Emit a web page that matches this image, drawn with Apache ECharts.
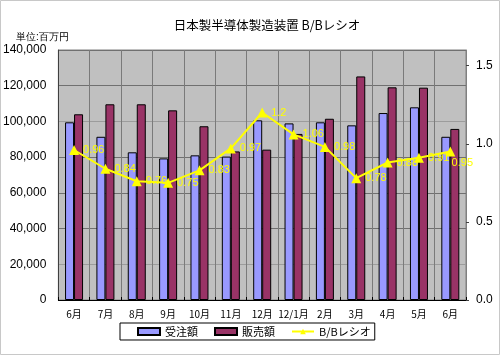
<!DOCTYPE html>
<html>
<head>
<meta charset="utf-8">
<script src="https://cdn.jsdelivr.net/npm/echarts@6/dist/echarts.min.js"></script>
<style>
html,body{margin:0;padding:0;background:#fff;}
#c{width:500px;height:355px;}
</style>
</head>
<body>
<div id="c"></div>
<script>
const categories = ['6月','7月','8月','9月','10月','11月','12月','12/1月','2月','3月','4月','5月','6月'];
const orders = [99500, 91400, 82700, 79300, 81000, 80300, 100600, 98900, 99500, 97800, 104700, 107900, 91400];
const sales  = [104000, 109600, 109600, 106200, 97300, 83200, 84200, 93000, 101500, 125200, 119100, 118900, 95800];
const bbRatio = [0.96, 0.84, 0.76, 0.75, 0.83, 0.97, 1.2, 1.06, 0.98, 0.78, 0.88, 0.91, 0.95];
const leftTicks = [0, 20000, 40000, 60000, 80000, 100000, 120000, 140000];
const rightTicks = [0.0, 0.5, 1.0, 1.5];

const font = '"Liberation Sans", Arial, "Noto Sans CJK JP", sans-serif';
const chart = echarts.init(document.getElementById('c'), null, {renderer:'canvas'});

const ratioData = bbRatio.map((v, i) => {
  if (i === bbRatio.length - 1) {
    return {value: v, label: {position: 'bottom', offset: [12, -3]}};
  }
  return v;
});

chart.setOption({
  animation: false,
  backgroundColor: '#fff',
  textStyle: {fontFamily: font},
  title: {
    text: '日本製半導体製造装置 B/Bレシオ',
    left: 262, textAlign: 'center', top: 14,
    textStyle: {fontSize: 12.5, fontWeight: 'normal', color: '#000', fontFamily: '"Noto Sans CJK JP", sans-serif'}
  },
  graphic: [
    {type: 'rect', shape: {x: 0.5, y: 0.5, width: 499, height: 354}, style: {fill: 'none', stroke: '#c8c8c8', lineWidth: 1}, silent: true},
    {type: 'text', left: 16, top: 32, style: {text: '単位:百万円', fontSize: 10, fill: '#000', font: '10px "Noto Sans CJK JP", sans-serif'}}
  ],
  legend: {
    left: 120, top: 323,
    backgroundColor: '#fff', borderColor: '#000', borderWidth: 1,
    padding: [3, 4, 3, 17],
    itemWidth: 22, itemHeight: 7, itemGap: 16,
    textStyle: {fontSize: 11, color: '#000', fontFamily: '"Noto Sans CJK JP", sans-serif'},
    data: [
      {name: '受注額', icon: 'rect'},
      {name: '販売額', icon: 'rect'},
      {name: 'B/Bレシオ'}
    ]
  },
  grid: {
    left: 58, right: 34, top: 50, bottom: 55,
    show: true, backgroundColor: '#c0c0c0', borderColor: '#808080', borderWidth: 1
  },
  xAxis: {
    type: 'category', data: categories,
    axisLine: {lineStyle: {color: '#000', width: 1}},
    axisTick: {show: true, inside: true, length: 3, lineStyle: {color: '#000'}},
    splitLine: {show: true, lineStyle: {color: '#7a7a7a', width: 1}},
    axisLabel: {fontSize: 10, color: '#000', margin: 9, interval: 0, fontFamily: '"Noto Sans CJK JP", sans-serif'}
  },
  yAxis: [
    {
      type: 'value', min: leftTicks[0], max: leftTicks[leftTicks.length - 1], interval: 20000,
      axisLine: {show: true, lineStyle: {color: '#404040'}},
      axisTick: {show: false},
      splitLine: {show: true, lineStyle: {color: ['#707070','#9c9c9c','#707070','#707070','#707070','#9c9c9c','#707070','#707070'], width: 1}},
      axisLabel: {fontSize: 12, color: '#000', margin: 12, formatter: v => v.toLocaleString('en-US')}
    },
    {
      type: 'value', min: 0, max: 1.6, interval: 0.5,
      axisLine: {show: true, lineStyle: {color: '#808080'}},
      axisTick: {show: true, length: 3, lineStyle: {color: '#404040'}},
      splitLine: {show: false},
      axisLabel: {fontSize: 12, color: '#000', margin: 10, showMaxLabel: false,
        formatter: v => rightTicks.indexOf(v) >= 0 ? v.toFixed(1) : ''}
    }
  ],
  series: [
    {
      name: '受注額', type: 'bar', data: orders, barWidth: 9, barGap: '0%',
      itemStyle: {color: '#9999ff', borderColor: '#000', borderWidth: 1}
    },
    {
      name: '販売額', type: 'bar', data: sales, barWidth: 9,
      itemStyle: {color: '#993366', borderColor: '#000', borderWidth: 1}
    },
    {
      name: 'B/Bレシオ', type: 'line', yAxisIndex: 1, data: ratioData,
      symbol: 'triangle', symbolSize: 10,
      lineStyle: {color: '#ffff00', width: 2},
      itemStyle: {color: '#ffff00'},
      label: {show: true, position: 'right', distance: 4, color: '#ffff00', fontSize: 11,
        formatter: p => String(p.value)}
    }
  ]
});
</script>
</body>
</html>
